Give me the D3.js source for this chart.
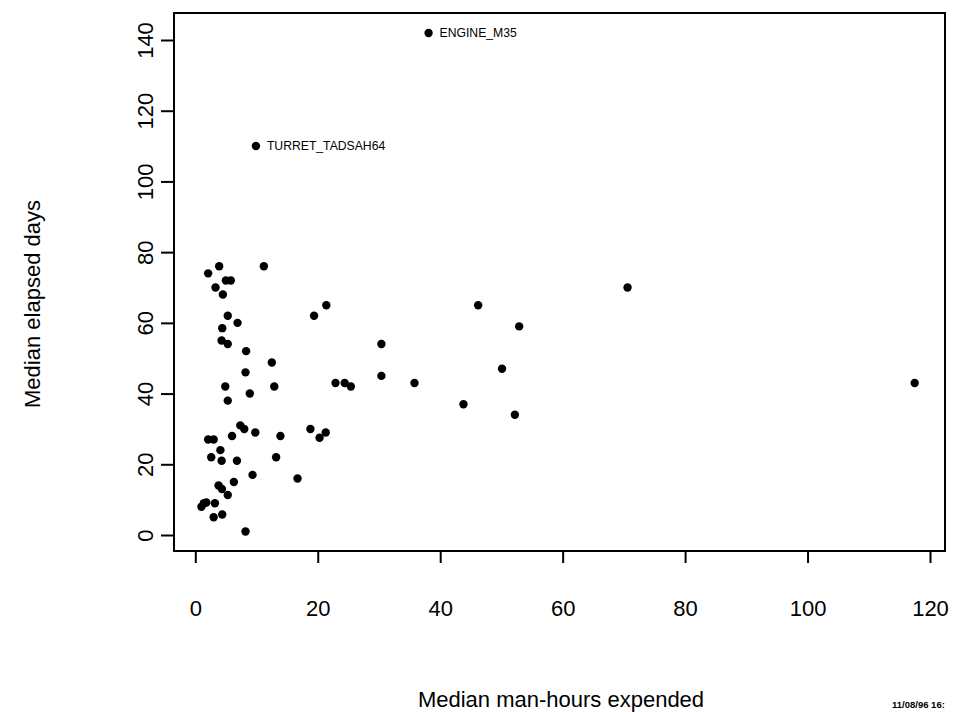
<!DOCTYPE html>
<html>
<head>
<meta charset="utf-8">
<script src="https://cdn.jsdelivr.net/npm/d3@7/dist/d3.min.js"></script>
<style>
  html, body { margin: 0; padding: 0; background: #fff; }
  svg { display: block; }
  text { font-family: "Liberation Sans", Arial, Helvetica, sans-serif; fill: #000; }
</style>
</head>
<body>
<svg id="chart" width="953" height="712"></svg>
<script>
// ---- data ----
const manHours = [1.0, 1.4, 1.8, 2.1, 3.0, 2.1, 2.6, 3.0, 3.2, 3.3, 3.8, 3.9, 4.1, 4.3, 4.35, 4.4, 4.4, 4.3, 4.5, 4.9,
  5.0, 5.8, 5.3, 5.3, 5.3, 5.3, 6.0, 6.3, 6.8, 6.9, 7.35, 8.0, 8.2, 8.2, 8.3, 8.9, 9.35, 9.8, 11.2, 12.5,
  12.9, 13.2, 13.9, 16.7, 18.8, 19.4, 20.3, 21.3, 21.4, 22.9, 24.4, 25.4, 30.4, 30.4, 35.8, 43.8, 46.2, 50.1, 52.2, 52.9,
  70.6, 117.5, 38.1, 9.9];
const elapsedDays = [8.0, 9.0, 9.2, 27, 27, 74, 22, 5, 9, 70, 14, 76, 24, 21, 13, 5.8, 58.5, 55, 68, 42,
  72, 72, 62, 54, 38, 11.3, 28, 15, 21, 60, 31, 30, 46, 1, 52, 40, 17, 29, 76, 48.8,
  42, 22, 28, 16, 30, 62, 27.5, 29, 65, 43, 43, 42, 54, 45, 43, 37, 65, 47, 34, 59,
  70, 43, 142, 110];
const labels = [{ name: "ENGINE_M35", x: 38.1, y: 142 }, { name: "TURRET_TADSAH64", x: 9.9, y: 110 }];
const xTicks = [0, 20, 40, 60, 80, 100, 120];
const yTicks = [0, 20, 40, 60, 80, 100, 120, 140];
const xTitle = "Median man-hours expended";
const yTitle = "Median elapsed days";
const stamp = "11/08/96 16:";

// ---- layout ----
const box = { left: 174, right: 945, top: 13, bottom: 551 };
const svg = d3.select("#chart");
const x = d3.scaleLinear().domain([0, 120]).range([195.3, 930]);
const y = d3.scaleLinear().domain([0, 140]).range([535, 40]);

// plot box
svg.append("rect")
  .attr("x", box.left).attr("y", box.top)
  .attr("width", box.right - box.left).attr("height", box.bottom - box.top)
  .attr("fill", "none").attr("stroke", "#000").attr("stroke-width", 2);

// x axis
const gx = svg.append("g").attr("transform", `translate(0,${box.bottom})`)
  .call(d3.axisBottom(x).tickValues(xTicks).tickSize(12).tickSizeOuter(0).tickPadding(37).tickFormat(d3.format("d")));
gx.select(".domain").remove();
gx.selectAll(".tick line").attr("stroke", "#000").attr("stroke-width", 2);
gx.selectAll(".tick text").attr("font-size", 22).attr("font-family", "Liberation Sans, Arial, sans-serif").attr("fill", "#000");

// y axis
const gy = svg.append("g").attr("transform", `translate(${box.left},0)`)
  .call(d3.axisLeft(y).tickValues(yTicks).tickSize(13).tickSizeOuter(0).tickFormat(d3.format("d")));
gy.select(".domain").remove();
gy.selectAll(".tick line").attr("stroke", "#000").attr("stroke-width", 2);
gy.selectAll(".tick text")
  .attr("font-size", 22).attr("font-family", "Liberation Sans, Arial, sans-serif").attr("fill", "#000")
  .attr("text-anchor", "middle").attr("x", 0).attr("dy", null).attr("y", 0)
  .attr("transform", "translate(-29,0) rotate(-90) translate(0,7.5)");

// points
const pts = manHours.map((m, i) => ({ m, d: elapsedDays[i] }));
svg.append("g").selectAll("circle").data(pts).join("circle")
  .attr("cx", p => x(p.m)).attr("cy", p => y(p.d)).attr("r", 4.2).attr("fill", "#000");

// annotations
svg.append("g").selectAll("text").data(labels).join("text")
  .attr("x", d => x(d.x) + 11).attr("y", d => y(d.y) + 4)
  .attr("font-size", 12.2).text(d => d.name);

// titles
svg.append("text").attr("x", 561).attr("y", 707).attr("text-anchor", "middle")
  .attr("font-size", 22).text(xTitle);
svg.append("text").attr("transform", "translate(40,304) rotate(-90)").attr("text-anchor", "middle")
  .attr("font-size", 22).text(yTitle);
svg.append("text").attr("x", 892).attr("y", 708).attr("font-size", 9.5).attr("font-weight", "bold").text(stamp);
</script>
</body>
</html>
